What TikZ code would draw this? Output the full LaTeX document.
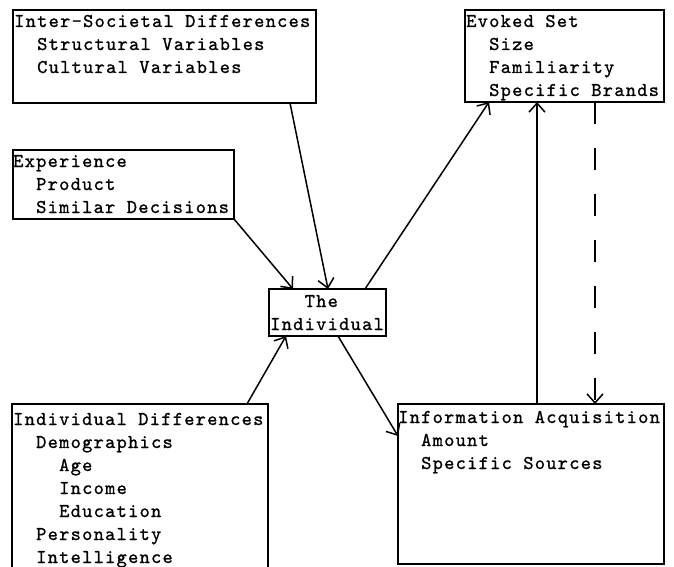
\documentclass[tikz,border=0pt]{standalone}
\usepackage{fontspec}
\newfontfamily\lmt{lmmono10-regular}[Extension=.otf, LetterSpace=6.4, FakeBold=1]
\usetikzlibrary{arrows.meta,calc}
\newcommand\indA{\hspace*{23pt}}
\newcommand\indB{\hspace*{46pt}}
\begin{document}
\begin{tikzpicture}[x=1pt,y=-1pt,
  box/.style={draw, line width=1.4pt, inner sep=0pt, outer sep=0pt, anchor=north west},
  txt/.style={inner sep=0pt, anchor=base west, font=\lmt\fontsize{19.5}{23}\selectfont},
  arr/.style={line width=1.5pt, -{Straight Barb[length=9pt,width=16pt,line width=1.5pt]}},
  darr/.style={arr, dash pattern=on 22pt off 24pt}]
\useasboundingbox (0,0) rectangle (674,567);
\clip (0,0) rectangle (674,567);
% boxes
\node[box, minimum width=303pt, minimum height=93pt] (inter) at (13,10) {};
\node[box, minimum width=199pt, minimum height=92pt] (evoked) at (465,10) {};
\node[box, minimum width=221pt, minimum height=69pt] (exper) at (13,150) {};
\node[box, minimum width=117pt, minimum height=47pt] (indiv) at (269,289) {};
\node[box, minimum width=256pt, minimum height=175pt] (idiff) at (12,404) {};
\node[box, minimum width=266pt, minimum height=160pt] (info) at (398,404) {};
% texts
\node[txt] (intert) at (14,27) {\parbox[t]{300pt}{Inter-Societal Differences\\\indA Structural Variables\\\indA Cultural Variables}};
\node[txt] (evokedt) at (466,27) {\parbox[t]{200pt}{Evoked Set\\\indA Size\\\indA Familiarity\\\indA Specific Brands}};
\node[txt] (expert) at (13,167) {\parbox[t]{220pt}{Experience\\\indA Product\\\indA Similar Decisions}};
\node[txt] (indivt) at (270,307) {\parbox[t]{120pt}{\hspace*{34.5pt}The\\Individual}};
\node[txt] (idifft) at (13,425) {\parbox[t]{260pt}{Individual Differences\\\indA Demographics\\\indB Age\\\indB Income\\\indB Education\\\indA Personality\\\indA Intelligence}};
\node[txt] (infot) at (398,423) {\parbox[t]{270pt}{Information Acquisition\\\indA Amount\\\indA Specific Sources}};
% connectors
\draw[arr] ($(inter.south west)+(277,0)$) -- ($(indiv.north west)+(59,0)$);
\draw[arr] (exper.south east) -- ($(indiv.north west)+(24,0)$);
\draw[arr] ($(indiv.north west)+(96,0)$) -- ($(evoked.south west)+(24,0)$);
\draw[arr] ($(idiff.north east)+(-21,0)$) -- ($(indiv.south west)+(17,0)$);
\draw[arr] ($(indiv.south west)+(69,0)$) -- ($(info.north west)+(0,32)$);
\draw[arr] ($(info.north west)+(139,0)$) -- ($(evoked.south west)+(72,0)$);
\draw[darr] ($(evoked.south west)+(130,0)$) -- ($(info.north west)+(197,0)$);
\end{tikzpicture}
\end{document}
